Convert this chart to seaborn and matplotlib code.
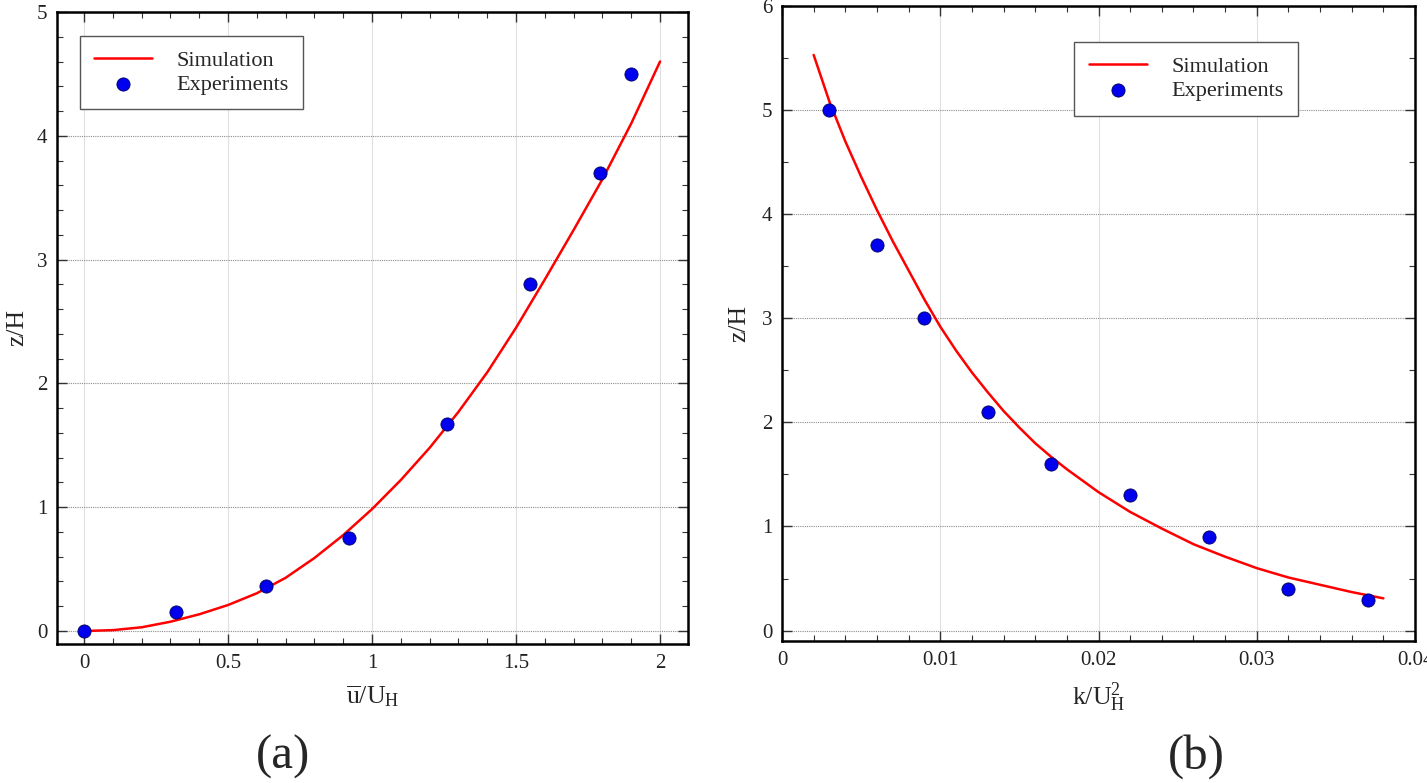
import numpy as np
import pandas as pd
import matplotlib
matplotlib.use('Agg')
import matplotlib.pyplot as plt
from matplotlib.ticker import MultipleLocator, FixedLocator, FuncFormatter
import seaborn as sns

# ---- panel (a): mean velocity profile ----
sim_u = [0, 0.1, 0.2, 0.3, 0.4, 0.5, 0.6, 0.7, 0.8, 0.9, 1.0,
         1.1, 1.2, 1.3, 1.4, 1.5, 1.6, 1.7, 1.8, 1.9, 2.0]
sim_u_z = [0, 0.007, 0.03, 0.075, 0.135, 0.21, 0.305, 0.43, 0.59, 0.775, 0.985,
           1.22, 1.48, 1.77, 2.09, 2.45, 2.84, 3.24, 3.65, 4.1, 4.6]
exp_u = [0, 0.32, 0.63, 0.92, 1.26, 1.55, 1.79, 1.90]
exp_u_z = [0, 0.15, 0.36, 0.75, 1.67, 2.8, 3.7, 4.5]

# ---- panel (b): turbulent kinetic energy profile ----
sim_k = [0.002, 0.003, 0.004, 0.005, 0.006, 0.007, 0.008, 0.009, 0.010, 0.011,
         0.012, 0.013, 0.014, 0.015, 0.016, 0.017, 0.018, 0.020, 0.022, 0.024,
         0.026, 0.028, 0.030, 0.032, 0.034, 0.036, 0.038]
sim_k_z = [5.53, 5.08, 4.70, 4.36, 4.04, 3.74, 3.46, 3.18, 2.92, 2.69,
           2.48, 2.29, 2.11, 1.95, 1.80, 1.67, 1.55, 1.33, 1.14, 0.98,
           0.83, 0.71, 0.60, 0.51, 0.44, 0.37, 0.31]
exp_k = [0.003, 0.006, 0.009, 0.013, 0.017, 0.022, 0.027, 0.032, 0.037]
exp_k_z = [5.0, 3.7, 3.0, 2.1, 1.6, 1.3, 0.9, 0.4, 0.29]

# ticks
a_xticks = [0, 0.5, 1, 1.5, 2]
a_yticks = [0, 1, 2, 3, 4, 5]
b_xticks = [0, 0.01, 0.02, 0.03, 0.04]
b_yticks = [0, 1, 2, 3, 4, 5, 6]

sns.set_style('ticks')
plt.rcParams['font.family'] = ['Liberation Serif', 'DejaVu Serif']
plt.rcParams['mathtext.fontset'] = 'custom'
plt.rcParams['mathtext.rm'] = 'Liberation Serif'
plt.rcParams['mathtext.it'] = 'Liberation Serif:italic'

fig = plt.figure(figsize=(14.27, 7.83), dpi=100)
W, H = 1427, 783
ax_a = fig.add_axes([57 / W, 1 - 644 / H, 631 / W, 632 / H])
ax_b = fig.add_axes([782 / W, 1 - 641 / H, 633 / W, 635 / H])


def style_axes(ax, xticks, yticks, xminor, yminor, xlim, ylim):
    ax.set_xlim(*xlim)
    ax.set_ylim(*ylim)
    ax.xaxis.set_major_locator(FixedLocator(xticks))
    ax.yaxis.set_major_locator(FixedLocator(yticks))
    ax.xaxis.set_minor_locator(MultipleLocator(xminor))
    ax.yaxis.set_minor_locator(MultipleLocator(yminor))
    fmt = FuncFormatter(lambda v, p: '%g' % v)
    ax.xaxis.set_major_formatter(fmt)
    ax.yaxis.set_major_formatter(fmt)
    ax.tick_params(which='both', direction='in', top=True, right=True,
                   labelsize=15, labelcolor='#222222', color='#333333')
    ax.tick_params(which='major', length=7, width=1.0, pad=7)
    ax.tick_params(which='minor', length=4, width=0.8)
    ax.yaxis.grid(True, which='major', linestyle=(0, (1, 1)), color='0.55', lw=0.8)
    ax.xaxis.grid(True, which='major', linestyle='-', color='0.88', lw=0.8)
    ax.set_axisbelow(True)
    for sp in ax.spines.values():
        sp.set_visible(True)
        sp.set_linewidth(1.8)
        sp.set_color('black')


def add_legend(ax, anchor):
    leg = ax.legend(loc='upper left', bbox_to_anchor=anchor, borderaxespad=0,
                    fontsize=16, frameon=True, fancybox=False, shadow=False,
                    handlelength=2.6, handletextpad=1.1, labelspacing=0.15,
                    borderpad=0.65)
    leg.get_frame().set_edgecolor('#555555')
    leg.get_frame().set_linewidth(1.0)
    leg.get_frame().set_alpha(1)


# panel (a)
sns.lineplot(x=sim_u, y=sim_u_z, ax=ax_a, color='red', lw=1.8, sort=False,
             label='Simulation')
sns.scatterplot(x=exp_u, y=exp_u_z, ax=ax_a, color='#0000ee', s=90,
                edgecolor='#00005a', linewidth=0.6, label='Experiments', zorder=3)
style_axes(ax_a, a_xticks, a_yticks, 0.1, 0.2, (-0.094, 2.097), (-0.105, 5.0))
ax_a.set_xlabel(r'$\overline{\mathrm{u}}/\mathrm{U}_{\mathrm{H}}$', fontsize=18.5)
ax_a.set_ylabel('z/H', fontsize=18.5)
ax_a.xaxis.set_label_coords(0.5, -0.062)
ax_a.yaxis.set_label_coords(-0.045, 0.5)
add_legend(ax_a, (0.036, 0.962))

# panel (b)
sns.lineplot(x=sim_k, y=sim_k_z, ax=ax_b, color='red', lw=1.8, sort=False,
             label='Simulation')
sns.scatterplot(x=exp_k, y=exp_k_z, ax=ax_b, color='#0000ee', s=90,
                edgecolor='#00005a', linewidth=0.6, label='Experiments', zorder=3)
style_axes(ax_b, b_xticks, b_yticks, 0.002, 0.5, (0, 0.04), (-0.1, 6.0))
ax_b.set_xlabel(r'$\mathrm{k}/\mathrm{U}_{\mathrm{H}}^{2}$', fontsize=18.5)
ax_b.set_ylabel('z/H', fontsize=18.5)
ax_b.xaxis.set_label_coords(0.5, -0.062)
ax_b.yaxis.set_label_coords(-0.05, 0.5)
add_legend(ax_b, (0.462, 0.943))

fig.text(283 / W, 1 - 757 / H, '(a)', fontsize=35, ha='center', va='center')
fig.text(1196 / W, 1 - 757 / H, '(b)', fontsize=35, ha='center', va='center')

fig.savefig('out.png', dpi=100)
